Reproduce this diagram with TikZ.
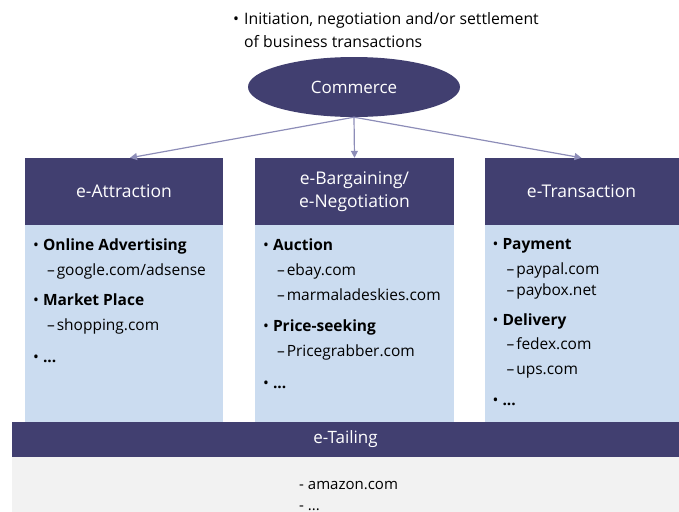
\documentclass[tikz,border=0pt]{standalone}
\usepackage{fontspec}
\setmainfont{Open Sans}
\usetikzlibrary{shapes.geometric,positioning,arrows.meta}
\definecolor{hdr}{HTML}{413F70}
\definecolor{bodyc}{HTML}{CBDCF0}
\definecolor{foot}{HTML}{F2F2F2}
\definecolor{link}{HTML}{8D8DB8}
\newcommand{\bitem}[1]{\makebox[10pt][l]{•}\textbf{#1}}
\newcommand{\sitem}[1]{\hspace*{14pt}–\hspace{2pt}#1}

\tikzset{
  head/.style={fill=hdr,text=white,minimum height=67pt,inner sep=0pt,
    align=center,font=\fontsize{17.5}{23}\selectfont},
  body/.style={fill=bodyc,minimum height=197pt,inner sep=0pt},
  items/.style={anchor=north west,align=left,inner sep=0pt,
    font=\fontsize{15.5}{20}\selectfont},
  link/.style={draw=link,line width=1.2pt,-{Triangle[length=7pt,width=7pt]}}
}

\begin{document}
\begin{tikzpicture}[x=1pt,y=-1pt]
  \useasboundingbox (0,0) rectangle (679,511);

  % top definition
  \node[items,font=\fontsize{15.8}{23}\selectfont] (def) at (233,12)
    {\makebox[11pt][l]{•}Initiation, negotiation and/or settlement\\
     \hspace*{11pt}of business transactions};
  \node[ellipse,fill=hdr,text=white,minimum width=212pt,minimum height=60pt,
    font=\fontsize{17}{20}\selectfont] (commerce) at (354,87) {Commerce};

  % columns
  \node[head,minimum width=198pt] (attr) at (124,191.5) {e-Attraction};
  \node[head,minimum width=199pt] (barg) at (354.5,191.5) {e-Bargaining/\\e-Negotiation};
  \node[head,minimum width=194pt] (trans) at (581.5,191.5) {e-Transaction};
  \node[body,minimum width=198pt,below=0pt of attr] (attrbody) {};
  \node[body,minimum width=199pt,below=0pt of barg] (bargbody) {};
  \node[body,minimum width=194pt,below=0pt of trans] (transbody) {};

  \draw[link] (commerce.south) -- ([xshift=6pt]attr.north);
  \draw[link] (commerce.south) -- (barg.north);
  \draw[link] (commerce.south) -- (trans.north);

  % lists
  \node[items] (attrlist) at ([xshift=8pt,yshift=-13pt]attrbody.north west)
    {\bitem{Online Advertising}\\[5pt]
     \sitem{google.com/adsense}\\[10pt]
     \bitem{Market Place}\\[5pt]
     \sitem{shopping.com}\\[12pt]
     \bitem{...}};
  \node[items] (barglist) at ([xshift=8pt,yshift=-13pt]bargbody.north west)
    {\bitem{Auction}\\[5pt]
     \sitem{ebay.com}\\[5pt]
     \sitem{marmaladeskies.com}\\[11pt]
     \bitem{Price-seeking}\\[5pt]
     \sitem{Pricegrabber.com}\\[12pt]
     \bitem{...}};
  \node[items] (translist) at ([xshift=8pt,yshift=-13pt]transbody.north west)
    {\bitem{Payment}\\[5pt]
     \sitem{paypal.com}\\[1pt]
     \sitem{paybox.net}\\[10pt]
     \bitem{Delivery}\\[4pt]
     \sitem{fedex.com}\\[5pt]
     \sitem{ups.com}\\[11pt]
     \bitem{...}};

  % e-tailing
  \node[fill=hdr,text=white,minimum width=667pt,minimum height=35pt,inner sep=0pt,
    font=\fontsize{17}{20}\selectfont] (tail) at (345.5,439.5) {e-Tailing};
  \node[fill=foot,minimum width=667pt,minimum height=55pt,inner sep=0pt,
    below=0pt of tail] (tailbody) {};
  \node[items,font=\fontsize{15}{21}\selectfont] (taillist) at (299,481)
    {- amazon.com\\- ...};
\end{tikzpicture}
\end{document}
